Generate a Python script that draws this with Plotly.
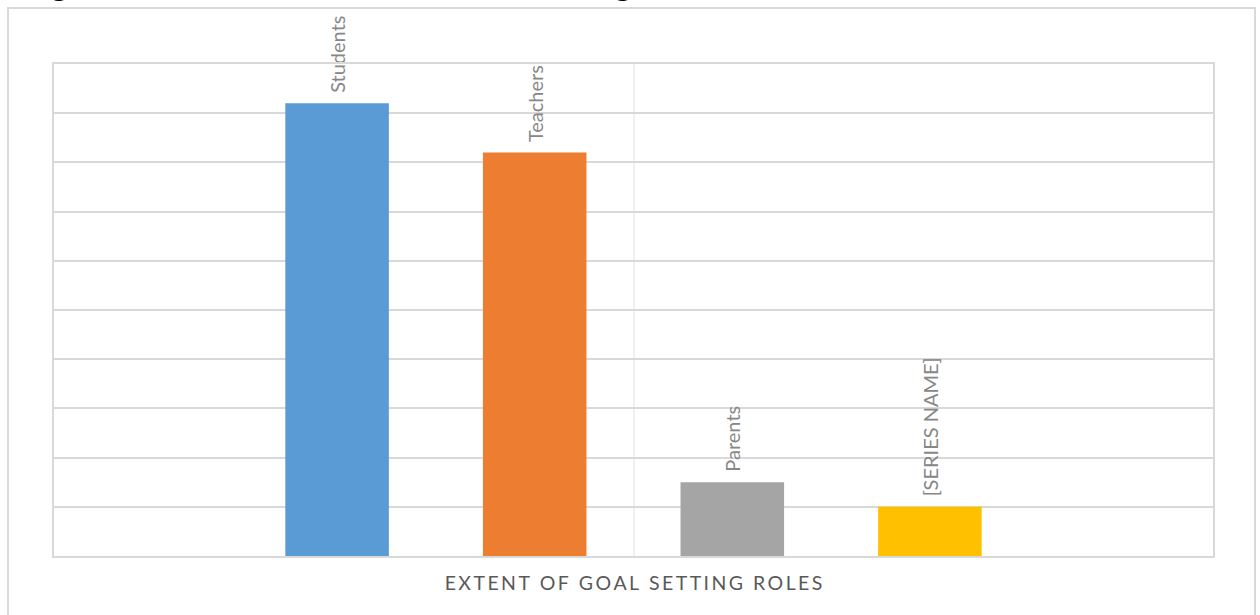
import plotly.graph_objects as go

# Goal-setting roles, one bar per series in a single category group
category = "EXTENT OF GOAL SETTING ROLES"
series_names = ["Students", "Teachers", "Parents", "[SERIES NAME]"]
series_values = [9.2, 8.2, 1.5, 1.0]
series_colors = ["#5b9bd5", "#ed7d31", "#a5a5a5", "#ffc000"]

title_text = "Figure 3: Bar Chart on Extent of Goal Setting Roles"

# spaced-out category label
spaced_label = "\u2009".join(category)

fig = go.Figure()
for name, val, col in zip(series_names, series_values, series_colors):
    fig.add_trace(go.Bar(
        x=[category], y=[val], name=name,
        marker=dict(color=col, line=dict(width=0)),
        text=[name], texttemplate="\u2009\u2009\u2009%{text}",
        textposition="outside", textangle=-90, constraintext="none",
        textfont=dict(family="Lato", size=20, color="#878787"),
        cliponaxis=False,
    ))

fig.update_layout(
    width=1260, height=615,
    margin=dict(l=54, r=47, t=64, b=59),
    paper_bgcolor="white", plot_bgcolor="white",
    barmode="group", bargap=0.318, bargroupgap=0.476,
    showlegend=False,
    font=dict(family="Lato"),
)
fig.update_xaxes(
    tickvals=[category], ticktext=[spaced_label],
    tickfont=dict(family="Lato", size=19.5, color="#595959"),
    showgrid=True, gridcolor="#f0f0f0", gridwidth=2,
    showline=True, linecolor="#d9d9d9", linewidth=2, mirror=True,
    ticks="", ticklabelstandoff=9,
)
fig.update_yaxes(
    range=[0, 10], dtick=1, showticklabels=False,
    showgrid=True, gridcolor="#d9d9d9", gridwidth=2,
    showline=True, linecolor="#d9d9d9", linewidth=2, mirror=True,
    zeroline=False, ticks="",
)

# outer frame of the chart object
fig.add_shape(type="rect", xref="paper", yref="paper",
              x0=-46 / 1159, x1=1201 / 1159, y0=-0.3, y1=1 + 56 / 492,
              line=dict(color="#d9d9d9", width=2), layer="below")

# figure caption sitting just above the frame
fig.add_annotation(
    text="<b>" + title_text + "</b>", xref="paper", yref="paper",
    x=-32 / 1159, y=1 + 61 / 492, xanchor="left", yanchor="bottom",
    showarrow=False,
    font=dict(family="Liberation Serif", size=31, color="black"),
)

fig.write_html("out.html")
